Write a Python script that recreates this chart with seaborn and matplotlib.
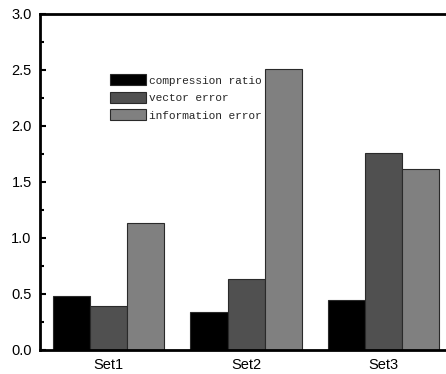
import pandas as pd
import seaborn as sns
from matplotlib import pyplot as plt
from matplotlib.ticker import MultipleLocator

sets = ['Set1', 'Set2', 'Set3']
compression_ratio = [0.48, 0.34, 0.45]
vector_error = [0.39, 0.63, 1.76]
information_error = [1.13, 2.51, 1.62]
metrics = ['compression ratio', 'vector error', 'information error']
colors = ['#000000', '#505050', '#808080']

df = pd.DataFrame({
    'set': sets * 3,
    'value': compression_ratio + vector_error + information_error,
    'metric': [m for m in metrics for _ in sets],
})

sns.set_style('ticks')
plt.rcParams['font.family'] = ['Liberation Sans', 'DejaVu Sans']

fig = plt.figure(figsize=(4.46, 3.74), dpi=100)
ax = fig.add_axes([0.0897, 0.0642, 0.924, 0.8984])

sns.barplot(data=df, x='set', y='value', hue='metric', palette=colors,
            width=0.81, gap=0, edgecolor='#2a2a2a', linewidth=0.8, ax=ax)

ax.set_xlim(-0.5, 2.5)
ax.set_ylim(0, 3.0)
ax.yaxis.set_major_locator(MultipleLocator(0.5))
ax.yaxis.set_minor_locator(MultipleLocator(0.25))
ax.tick_params(axis='y', which='major', direction='in', length=4, width=1.5,
               labelsize=10.5, pad=6, color='black', labelcolor='black')
ax.tick_params(axis='y', which='minor', direction='in', length=3, width=1.5,
               color='black')
ax.tick_params(axis='x', length=0, labelsize=10.5, pad=6, labelcolor='black')
ax.set_xlabel('')
ax.set_ylabel('')
for s in ax.spines.values():
    s.set_linewidth(2)
    s.set_color('black')
    s.set_visible(True)

ax.legend(loc='upper left', bbox_to_anchor=(0.17, 0.82), frameon=False,
          prop={'family': 'Liberation Mono', 'size': 8}, handlelength=3.2,
          handleheight=1.15, labelspacing=0.55, handletextpad=0.3,
          borderpad=0, borderaxespad=0)

fig.savefig('out.png', dpi=100)
